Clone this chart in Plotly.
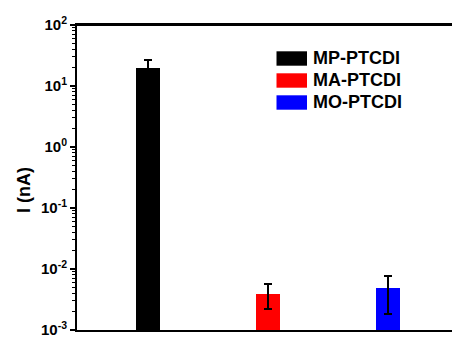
import plotly.graph_objects as go

categories = ["MP-PTCDI", "MA-PTCDI", "MO-PTCDI"]
current_nA = [19.5, 0.0039, 0.0048]
error_nA = [7.0, 0.0017, 0.0030]
colors = ["#000000", "#FF0000", "#0000FF"]
ytick_vals = [1e-3, 1e-2, 1e-1, 1e0, 1e1, 1e2]
ytick_text = ["<b>10<sup>-3</sup></b>", "<b>10<sup>-2</sup></b>", "<b>10<sup>-1</sup></b>",
              "<b>10<sup>0</sup></b>", "<b>10<sup>1</sup></b>", "<b>10<sup>2</sup></b>"]

FONT = "Liberation Sans, Arial, sans-serif"

fig = go.Figure()
fig.add_trace(go.Bar(
    x=categories, y=current_nA, width=0.2,
    marker=dict(color=colors, line=dict(width=0)),
    error_y=dict(type="data", array=error_nA, visible=True,
                 color="#000000", thickness=2, width=4),
    showlegend=False,
))

minor_vals = [m * 10.0 ** e for e in range(-3, 2) for m in range(2, 10)]

W, H = 452, 338
L, R, T, B = 77, 0, 25, 8
pw, ph = W - L - R, H - T - B

fig.update_layout(
    width=W, height=H,
    margin=dict(l=L, r=R, t=T, b=B),
    plot_bgcolor="white", paper_bgcolor="white",
    font=dict(family=FONT, color="black"),
    bargap=0,
    xaxis=dict(
        type="category", range=[-0.5875, 2.5375],
        showline=True, linecolor="black", linewidth=2, mirror=True,
        showticklabels=False, ticks="", showgrid=False, zeroline=False,
    ),
    yaxis=dict(
        type="log", range=[-3, 2],
        showline=True, linecolor="black", linewidth=2, mirror=False,
        tickvals=ytick_vals, ticktext=ytick_text,
        ticks="outside", ticklen=5, tickwidth=1.5, tickcolor="black",
        tickfont=dict(family=FONT, size=15, color="black"),
        ticklabeloverflow="allow",
        minor=dict(tickvals=minor_vals, ticks="outside", ticklen=3,
                   tickwidth=1, tickcolor="black", showgrid=False),
        showgrid=False, zeroline=False,
    ),
)

# top frame line
fig.add_shape(type="line", xref="paper", yref="paper", x0=0, x1=1, y0=1, y1=1,
              line=dict(color="black", width=2))

# y-axis title
fig.add_annotation(
    text="<b>I (nA)</b>", xref="paper", yref="paper",
    x=(24 - L) / pw, y=(H - B - 190) / ph, textangle=-90,
    showarrow=False, font=dict(family=FONT, size=18, color="black"),
    xanchor="center", yanchor="middle",
)

# legend (drawn manually for wide colour swatches)
row_y = [58.5, 80.5, 102.5]
for name, col, ry in zip(categories, colors, row_y):
    fig.add_shape(
        type="rect", xref="paper", yref="paper",
        x0=(276.5 - L) / pw, x1=(307 - L) / pw,
        y0=(H - B - (ry - 7.2)) / ph, y1=(H - B - (ry + 7.2)) / ph,
        fillcolor=col, line=dict(width=0),
    )
    fig.add_annotation(
        text=f"<b>{name}</b>", xref="paper", yref="paper",
        x=(311 - L) / pw, y=(H - B - ry) / ph,
        showarrow=False, xanchor="left", yanchor="middle",
        font=dict(family=FONT, size=18, color="black"),
    )

fig.write_html(
    "out.html",
    config={"displayModeBar": False},
    post_script="document.body.style.margin='0';document.body.style.overflow='hidden';",
)
